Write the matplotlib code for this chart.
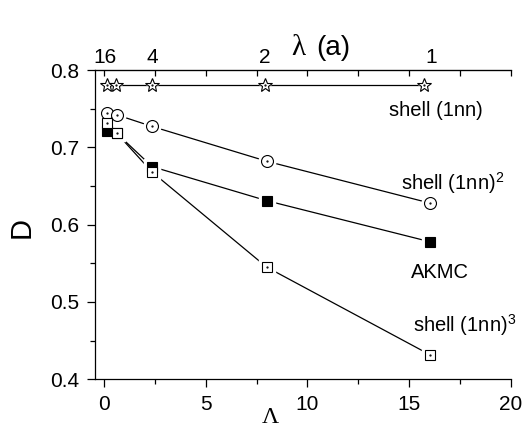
import numpy as np
import matplotlib
matplotlib.use("Agg")
import matplotlib.pyplot as plt
from matplotlib.ticker import MultipleLocator

plt.rcParams['font.family'] = ['Liberation Sans', 'DejaVu Sans']
plt.rcParams['mathtext.fontset'] = 'custom'
plt.rcParams['mathtext.rm'] = 'Liberation Sans'
plt.rcParams['mathtext.default'] = 'regular'

# data
lam_x = [0.15, 0.6, 2.35, 7.9, 15.75]
shell1 = [0.7806, 0.7806, 0.7806, 0.7806, 0.7806]

big_lam = [0.16, 0.64, 2.37, 8.0, 16.0]
shell2 = [0.745, 0.742, 0.727, 0.682, 0.628]
akmc = [0.7215, 0.718, 0.675, 0.631, 0.578]
shell3 = [0.732, 0.718, 0.668, 0.545, 0.432]

top_pos = [0.05, 2.4, 7.9, 16.1]
top_labels = ["16", "4", "2", "1"]

fig = plt.figure(figsize=(5.25, 4.29), dpi=100)
ax = fig.add_axes([0.1804, 0.1159, 0.9733 - 0.1804, 0.8368 - 0.1159])


def series(x, y, marker, ms, filled=False):
    ax.plot(x, y, '-', color='black', lw=0.9, zorder=2)
    # white halo so the line stops short of each marker
    ax.plot(x, y, linestyle='none', marker=marker, ms=ms + 3.5, mfc='white',
            mec='white', zorder=3)
    ax.plot(x, y, linestyle='none', marker=marker, ms=ms,
            mfc='black' if filled else 'white', mec='black', mew=0.8, zorder=4)
    if not filled:
        ax.plot(x, y, linestyle='none', marker='.', ms=1.2, color='black', zorder=5)


series(lam_x, shell1, '*', 10)
series(big_lam, shell2, 'o', 8.6)
series(big_lam, akmc, 's', 7.5, filled=True)
series(big_lam, shell3, 's', 7.5)

ax.set_xlim(-0.45, 20)
ax.set_ylim(0.4, 0.8)
ax.xaxis.set_major_locator(MultipleLocator(5))
ax.xaxis.set_minor_locator(MultipleLocator(2.5))
ax.yaxis.set_major_locator(MultipleLocator(0.1))
ax.yaxis.set_minor_locator(MultipleLocator(0.05))
ax.set_yticks([0.4, 0.5, 0.6, 0.7, 0.8])
ax.set_yticklabels(["0.4", "0.5", "0.6", "0.7", "0.8"])
ax.tick_params(which='major', direction='out', length=6, width=0.9, labelsize=15, pad=5)
ax.tick_params(which='minor', direction='out', length=3.5, width=0.9)
ax.spines['right'].set_visible(False)
for s in ['left', 'bottom', 'top']:
    ax.spines[s].set_linewidth(0.9)

# top axis: inward ticks only
top = ax.twiny()
top.set_xlim(ax.get_xlim())
top.xaxis.set_major_locator(MultipleLocator(5))
top.xaxis.set_minor_locator(MultipleLocator(2.5))
top.tick_params(which='both', direction='in', length=4, width=0.9, labeltop=False)
top.spines['right'].set_visible(False)
top.spines['left'].set_visible(False)
top.spines['bottom'].set_visible(False)

for p, t in zip(top_pos, top_labels):
    ax.text(p, 1.023, t, transform=ax.get_xaxis_transform(), ha='center',
            va='baseline', fontsize=15)

fig.text(291 / 525, 1 - 55 / 429, "λ", family='Liberation Serif', fontsize=21,
         ha='left', va='baseline')
fig.text(316 / 525, 1 - 55 / 429, "(a)", fontsize=20, ha='left', va='baseline')
fig.text(270 / 525, 1 - 423 / 429, "Λ", family='Liberation Serif', fontsize=17,
         ha='center', va='baseline')
fig.text(22 / 525, 1 - 228 / 429, "D", fontsize=21, rotation=90,
         ha='center', va='center')

ax.text(14.0, 0.740, "shell (1nn)", fontsize=14.5, va='baseline')
ax.text(14.6, 0.6457, "shell (1nn)$^2$", fontsize=14.5, va='baseline')
ax.text(15.1, 0.5305, "AKMC", fontsize=14.5, va='baseline')
ax.text(15.2, 0.4615, "shell (1nn)$^3$", fontsize=14.5, va='baseline', clip_on=False)

fig.savefig("out.png", dpi=100)
